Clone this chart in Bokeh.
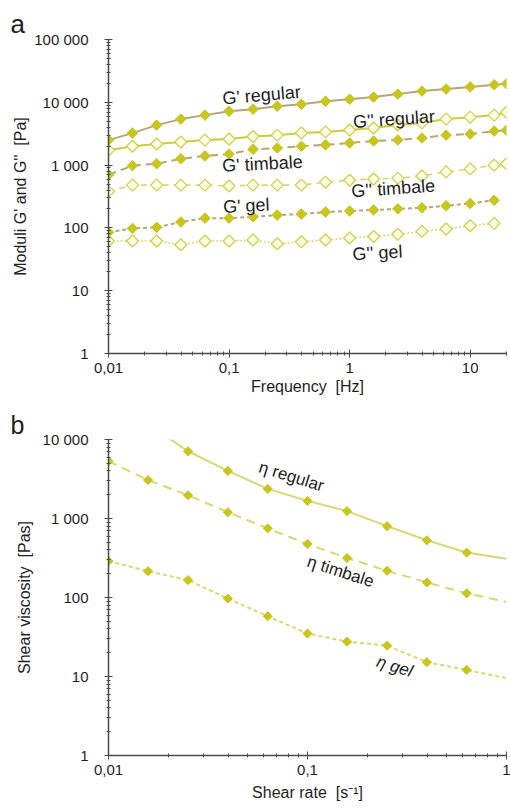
from bokeh.plotting import figure
from bokeh.layouts import column
from bokeh.models import FixedTicker, CustomJSTickFormatter, Label, Title
from bokeh.embed import file_html
from bokeh.resources import INLINE

# ---------------- data (panel a) ----------------
freq = [0.01, 0.0158, 0.0251, 0.0398, 0.0631, 0.1, 0.158, 0.251, 0.398, 0.631,
        1.0, 1.58, 2.51, 3.98, 6.31, 10.0, 15.8, 20.0]
g1_regular = [2500, 3230, 4330, 5400, 6250, 7200, 7750, 8650, 9300, 10400,
              11200, 12100, 13500, 15100, 16300, 17600, 19000, 19800]
g2_regular = [1730, 2000, 2170, 2330, 2500, 2600, 2850, 3000, 3250, 3380,
              3620, 3900, 4350, 4700, 5400, 5800, 6250, 6950]
g1_timbale = [700, 980, 1050, 1260, 1400, 1500, 1780, 1870, 2000, 2100,
              2250, 2420, 2510, 2700, 3000, 3120, 3480, 3600]
g2_timbale = [380, 480, 480, 480, 480, 465, 480, 480, 480, 535,
              575, 600, 620, 670, 780, 870, 1000, 1050]
freq_gel = freq[:17]
g1_gel = [85, 98, 102, 124, 143, 143, 150, 160, 166, 179,
          186, 193, 201, 209, 225, 245, 275]
g2_gel = [62, 62, 62, 54, 62, 62, 64, 56, 60, 64,
          69, 73, 79, 88, 96, 108, 118]

# ---------------- data (panel b) ----------------
shear_reg = [0.02, 0.0251, 0.0398, 0.0631, 0.1, 0.158, 0.251, 0.398, 0.631, 1.0]
eta_regular = [10400, 7100, 4000, 2370, 1670, 1240, 800, 530, 370, 310]
shear = [0.01, 0.0158, 0.0251, 0.0398, 0.0631, 0.1, 0.158, 0.251, 0.398, 0.631, 1.0]
eta_timbale = [5300, 3070, 1970, 1200, 750, 475, 316, 218, 155, 113, 88]
eta_gel = [290, 215, 166, 97, 58, 35, 27.6, 24.6, 15.2, 12.1, 9.5]

# ---------------- ticks ----------------
x_ticks_a = [0.01, 0.1, 1, 10]
y_ticks_a = [1, 10, 100, 1000, 10000, 100000]
x_ticks_b = [0.01, 0.1, 1]
y_ticks_b = [1, 10, 100, 1000, 10000]


def minors(lo_exp, hi_exp):
    out = []
    for e in range(lo_exp, hi_exp):
        for m in range(2, 10):
            out.append(m * 10.0 ** e)
    return out


FONT = "Liberation Sans"
TXT = "#1e1e1e"
AXIS_C = "#4a4a4a"
MK = "#c8c61e"
MK_OPEN = "#d2cf4a"
TAN = "#b3a67e"
YEL = "#cccb3c"
LYEL = "#d9d773"

fmt = CustomJSTickFormatter(code="""
    if (tick < 1) { return tick.toString().replace('.', ','); }
    return Math.round(tick).toString().replace(/\\B(?=(\\d{3})+(?!\\d))/g, ' ');
""")


def style(p, xt, yt):
    p.xaxis.ticker = FixedTicker(ticks=xt, minor_ticks=minors(-2, 2))
    p.yaxis.ticker = FixedTicker(ticks=yt, minor_ticks=minors(0, 5))
    for ax in (p.xaxis[0], p.yaxis[0]):
        ax.formatter = fmt
        ax.axis_line_color = AXIS_C
        ax.axis_line_width = 1.5
        ax.major_tick_line_color = AXIS_C
        ax.minor_tick_line_color = AXIS_C
        ax.major_tick_in = 4
        ax.major_tick_out = 4
        ax.minor_tick_in = 2
        ax.minor_tick_out = 2
        ax.major_label_text_font = FONT
        ax.major_label_text_font_size = "15px"
        ax.major_label_text_color = TXT
        ax.axis_label_text_font = FONT
        ax.axis_label_text_font_size = "16px"
        ax.axis_label_text_font_style = "normal"
        ax.axis_label_text_color = TXT
    p.yaxis.major_label_standoff = 16
    p.xaxis.major_label_standoff = 5
    p.xaxis.axis_label_standoff = 2
    p.xgrid.visible = False
    p.ygrid.visible = False
    p.outline_line_color = None


def side_titles(p, ytext, y_offset, y_standoff, letter, letter_size):
    p.add_layout(Title(text=ytext, align="center", offset=y_offset, standoff=y_standoff,
                       text_font=FONT, text_font_size="16px", text_font_style="normal",
                       text_color=TXT), "left")
    p.add_layout(Title(text=letter, align="left", offset=-98, standoff=0,
                       vertical_align="middle",
                       text_font=FONT, text_font_size=letter_size, text_font_style="normal",
                       text_color=TXT), "above")


# ---------------- panel a ----------------
pa = figure(width=510, height=400, x_axis_type="log", y_axis_type="log",
            x_range=(0.01, 20), y_range=(1, 100000),
            output_backend="svg", toolbar_location=None,
            min_border_left=108, min_border_right=4, min_border_top=39, min_border_bottom=47)
style(pa, x_ticks_a, y_ticks_a)
pa.xaxis.axis_label = "Frequency\u00a0 [Hz]"
side_titles(pa, "Moduli G' and G''\u00a0 [Pa]", 37, 6, "a", "26px")

pa.line(freq, g1_regular, line_color=TAN, line_width=2)
pa.line(freq, g2_regular, line_color=YEL, line_width=2)
pa.line(freq, g1_timbale, line_color=TAN, line_width=2, line_dash="8 5")
pa.line(freq, g2_timbale, line_color=LYEL, line_width=1.6, line_dash="6 5")
pa.line(freq_gel, g1_gel, line_color=TAN, line_width=2, line_dash="4 3")
pa.line(freq_gel, g2_gel, line_color=LYEL, line_width=1.6, line_dash="2 2")

for ys, xs in ((g1_regular, freq), (g1_timbale, freq), (g1_gel, freq_gel)):
    pa.scatter(xs, ys, marker="square", angle=45, angle_units="deg", size=7.5,
               fill_color=MK, line_color=MK, line_width=1)
for ys, xs in ((g2_regular, freq), (g2_timbale, freq), (g2_gel, freq_gel)):
    pa.scatter(xs, ys, marker="square", angle=45, angle_units="deg", size=8.5,
               fill_color="#fbfbe6", line_color=MK_OPEN, line_width=1.3)

labels_a = [("G' regular", 0.186, 13000, 5), ("G'' regular", 2.33, 5400, 4),
            ("G' timbale", 0.189, 1050, 3), ("G'' timbale", 2.3, 425, 4),
            ("G' gel", 0.139, 225, 3), ("G'' gel", 1.7, 40, 3)]
for t, x, y, ang in labels_a:
    pa.add_layout(Label(x=x, y=y, text=t, angle=ang, angle_units="deg",
                        text_align="center", text_baseline="middle",
                        text_font=FONT, text_font_size="18px", text_color=TXT))

# ---------------- panel b ----------------
pb = figure(width=510, height=409, x_axis_type="log", y_axis_type="log",
            x_range=(0.01, 1), y_range=(1, 10000),
            output_backend="svg", toolbar_location=None,
            min_border_left=108, min_border_right=4, min_border_top=39, min_border_bottom=54)
style(pb, x_ticks_b, y_ticks_b)
pb.xaxis.axis_label = "Shear rate\u00a0 [s\u207b\u00b9]"
pb.xaxis.axis_label_standoff = 6
side_titles(pb, "Shear viscosity\u00a0 [Pas]", 4, 14, "b", "25px")

pb.line(shear_reg, eta_regular, line_color=LYEL, line_width=2)
pb.line(shear, eta_timbale, line_color=LYEL, line_width=2, line_dash="9 6")
pb.line(shear, eta_gel, line_color=LYEL, line_width=2, line_dash="4 3")
pb.scatter(shear_reg[1:-1], eta_regular[1:-1], marker="square", angle=45, angle_units="deg",
           size=6.5, fill_color=MK, line_color=MK)
pb.scatter(shear[:-1], eta_timbale[:-1], marker="square", angle=45, angle_units="deg",
           size=6.5, fill_color=MK, line_color=MK)
pb.scatter(shear[:-1], eta_gel[:-1], marker="square", angle=45, angle_units="deg",
           size=6.5, fill_color=MK, line_color=MK)

labels_b = [("\u03b7 regular", 0.083, 3400, -17, "normal"),
            ("\u03b7 timbale", 0.1466, 213, -18, "normal"),
            ("\u03b7 gel", 0.274, 13.4, -17, "italic")]
for t, x, y, ang, st in labels_b:
    pb.add_layout(Label(x=x, y=y, text=t, angle=ang, angle_units="deg",
                        text_align="center", text_baseline="middle", text_font_style=st,
                        text_font=FONT, text_font_size="17px", text_color=TXT))

layout = column(pa, pb, spacing=0)
open("out.html", "w").write(file_html(layout, INLINE))
